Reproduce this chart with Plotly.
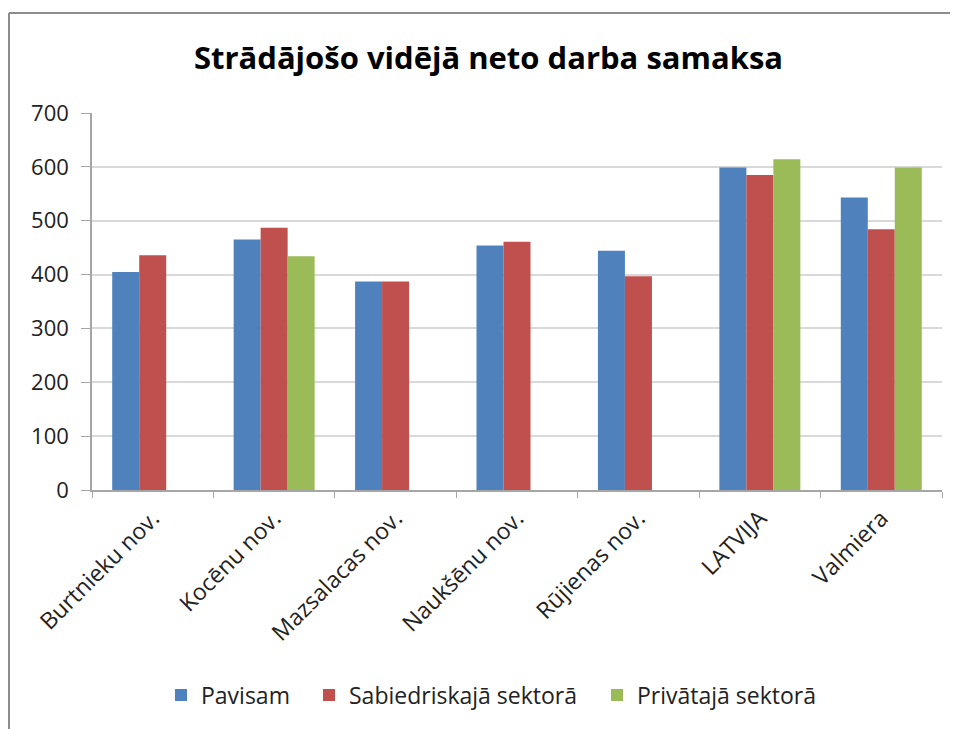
import plotly.graph_objects as go

categories = ["Burtnieku nov.", "Kocēnu nov.", "Mazsalacas nov.", "Naukšēnu nov.",
              "Rūjienas nov.", "LATVIJA", "Valmiera"]
pavisam = [405, 465, 387, 454, 444, 599, 543]
sabiedriskaja = [436, 487, 387, 461, 397, 585, 484]
privataja = [None, 434, None, None, None, 614, 599]

series_names = ["Pavisam", "Sabiedriskajā sektorā", "Privātajā sektorā"]
colors = ["#4F81BD", "#C0504D", "#9BBB59"]
y_ticks = [0, 100, 200, 300, 400, 500, 600, 700]

FONT = "'Open Sans', sans-serif"
W, H = 950, 721          # page body has an 8px margin
L, T, PW, PH = 84, 105, 850, 377

legend_ids = ["legend", "legend2", "legend3"]
# desired legend-square centres in window pixels
legend_sq_x = [183, 331, 619]

fig = go.Figure()
for name, vals, col, lid in zip(series_names, [pavisam, sabiedriskaja, privataja], colors, legend_ids):
    fig.add_trace(go.Bar(x=categories, y=vals, name=name, marker_color=col,
                         marker_line_width=0, legend=lid))

legend_common = dict(orientation="h", xref="container", xanchor="left",
                     y=1 - 687 / H, yref="container", yanchor="middle",
                     font=dict(family=FONT, size=23, color="#222222"),
                     itemwidth=30, bgcolor="rgba(0,0,0,0)", borderwidth=0)

layout_legends = {}
for lid, sx in zip(legend_ids, legend_sq_x):
    d = dict(legend_common)
    d["x"] = (sx - 8 - 22) / W
    layout_legends[lid] = d

fig.update_layout(
    width=W, height=H,
    margin=dict(l=L, r=W - L - PW, t=T, b=H - T - PH, pad=0),
    paper_bgcolor="white", plot_bgcolor="white",
    barmode="group", bargap=0.333, bargroupgap=0,
    font=dict(family=FONT, size=20, color="#222222"),
    title=dict(text="<b>Strādājošo vidējā neto darba samaksa</b>",
               x=480.5 / W, xref="container", xanchor="center",
               y=1 - 50 / H, yref="container", yanchor="middle",
               font=dict(family=FONT, size=31, color="#000000")),
    showlegend=True,
    **layout_legends,
)
fig.update_xaxes(type="category", showgrid=False, showline=True, linecolor="#a6a6a6",
                 linewidth=1.5, ticks="outside", tickson="boundaries", ticklen=6,
                 tickcolor="#a6a6a6", tickangle=-45, ticklabelstandoff=4,
                 tickfont=dict(family=FONT, size=23, color="#222222"))
fig.update_yaxes(range=[0, 700], tickvals=y_ticks, showgrid=True, gridcolor="#d9d9d9",
                 gridwidth=1.5, showline=True, linecolor="#a6a6a6", linewidth=1.5,
                 ticks="outside", ticklen=9, tickcolor="#a6a6a6", ticklabelstandoff=8,
                 tickfont=dict(family=FONT, size=22, color="#222222"), zeroline=False)

# outer frame (left and top edges visible in the reference)
fx = (1 - L) / PW
fy_top = (T + PH - 5) / PH
fig.add_shape(type="line", xref="paper", yref="paper",
              x0=fx, x1=fx, y0=fy_top, y1=-1.0,
              line=dict(color="#8c8c8c", width=2))
fig.add_shape(type="line", xref="paper", yref="paper",
              x0=fx, x1=(W + 10 - L) / PW, y0=fy_top, y1=fy_top,
              line=dict(color="#8c8c8c", width=2))

fig.write_html("out.html")
